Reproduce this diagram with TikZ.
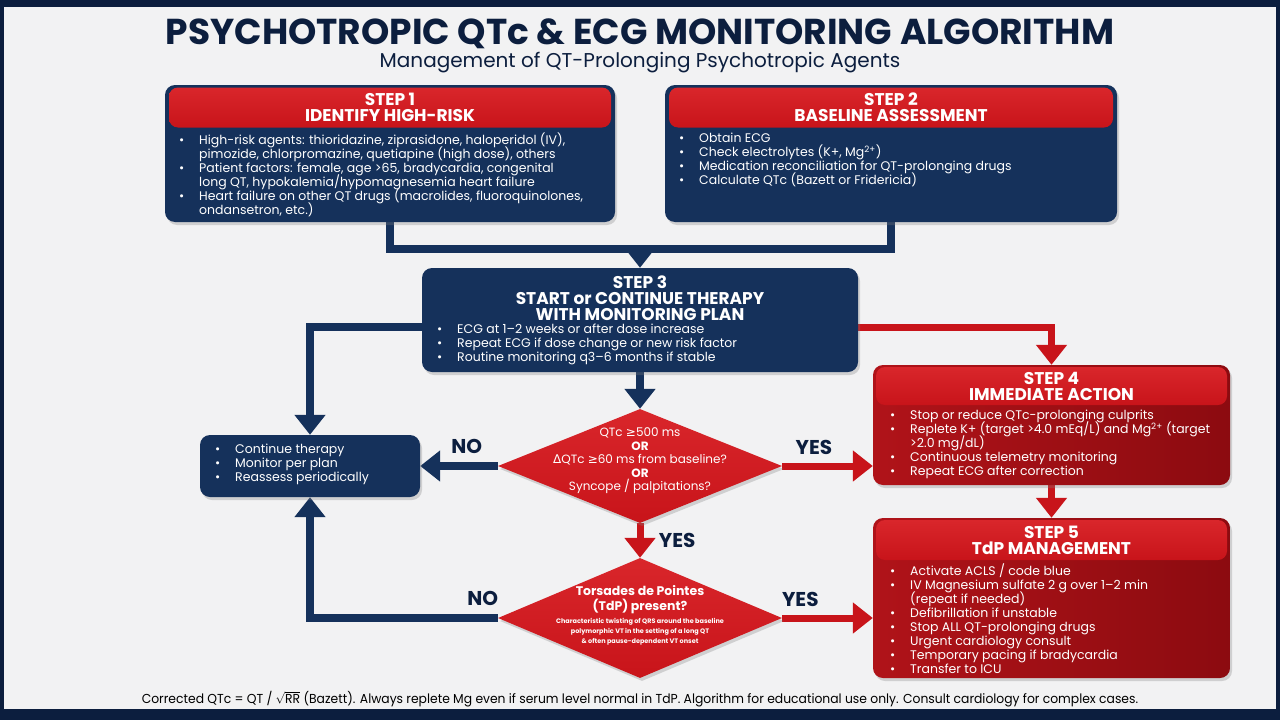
\documentclass[tikz,border=0pt]{standalone}
\usepackage{fontspec}
\setmainfont{Poppins}
\newfontfamily\symfont{DejaVu Sans}
\usetikzlibrary{arrows.meta,positioning,shapes.geometric,shadows,backgrounds}
\definecolor{navy}{HTML}{15315B}
\definecolor{framenavy}{HTML}{0C1E3E}
\definecolor{hdred}{HTML}{C8141A}
\definecolor{hdredlight}{HTML}{D9262B}
\definecolor{bodyredA}{HTML}{B01319}
\definecolor{bodyredB}{HTML}{8C0B10}
\definecolor{paper}{HTML}{F2F2F3}
\newcommand{\itm}{\makebox[20pt][l]{\textbullet}}
\newcommand{\cnt}{\hspace*{20pt}}
\newcommand{\geqs}{{\symfont ≥}}
\setlength{\lineskiplimit}{-100pt}

\begin{document}
\begin{tikzpicture}[x=1pt, y=-1pt,
  font=\fontsize{12.5}{14}\selectfont,
  shade/.style={drop shadow={opacity=0.3, shadow xshift=2pt, shadow yshift=-3pt}},
  navybox/.style={fill=navy, rounded corners=10pt, shade},
  redbox/.style={left color=bodyredA, right color=bodyredB, rounded corners=10pt, shade},
  redhead/.style={top color=hdredlight, bottom color=hdred, rounded corners=9pt, text=white, align=center,
    font=\fontsize{17}{16}\selectfont\bfseries},
  steptitle/.style={text=white, align=center, font=\fontsize{17}{16}\selectfont\bfseries},
  bodytxt/.style={text=white, align=left, inner sep=0pt},
  diam/.style={diamond, inner sep=0pt, top color=hdredlight, bottom color=hdred, shade},
  lbl/.style={text=framenavy, font=\fontsize{20}{20}\selectfont\bfseries},
  navyline/.style={draw=navy, line width=8pt},
  redline/.style={draw=hdred, line width=7pt},
  >={Triangle[length=20pt, width=30pt]}]

  \begin{scope}[on background layer]
    \fill[framenavy] (0,0) rectangle (1280,720);
    \fill[paper] (4,7) rectangle (1276,709);
  \end{scope}
  \useasboundingbox (0,0) rectangle (1280,720);

  % title
  \node[text=framenavy] (title) at (640,34)
    {\fontsize{36}{36}\selectfont\bfseries PSYCHOTROPIC QTc \& ECG MONITORING ALGORITHM};
  \node[text=framenavy] (sub) at (640,63)
    {\fontsize{20}{20}\selectfont Management of QT-Prolonging Psychotropic Agents};

  % step 1 and step 2
  \node[navybox, minimum width=450pt, minimum height=137pt] (s1) at (390,153.5) {};
  \node[redhead, minimum width=442pt, minimum height=40pt] (s1h) at (390,107.5) {STEP 1\\IDENTIFY HIGH-RISK};
  \node[bodytxt, anchor=north west] (s1b) at (179,133)
    {\itm High-risk agents: thioridazine, ziprasidone, haloperidol (IV),\\
     \cnt pimozide, chlorpromazine, quetiapine (high dose), others\\
     \itm Patient factors: female, age >65, bradycardia, congenital\\
     \cnt long QT, hypokalemia/hypomagnesemia heart failure\\
     \itm Heart failure on other QT drugs (macrolides, fluoroquinolones,\\
     \cnt ondansetron, etc.)};

  \node[navybox, minimum width=452pt, minimum height=137pt] (s2) at (891,153.5) {};
  \node[redhead, minimum width=444pt, minimum height=40pt] (s2h) at (891,107.5) {STEP 2\\BASELINE ASSESSMENT};
  \node[bodytxt, anchor=north west] (s2b) at (679,133)
    {\itm Obtain ECG\\
     \itm Check electrolytes (K+, Mg\textsuperscript{2+})\\
     \itm Medication reconciliation for QT-prolonging drugs\\
     \itm Calculate QTc (Bazett or Fridericia)};
  \coordinate (join) at (640,249);

  % step 3
  \node[navybox, minimum width=436pt, minimum height=104pt] (s3) at (640,320) {};
  \node[steptitle] (s3h) at (640,298) {STEP 3\\START or CONTINUE THERAPY\\WITH MONITORING PLAN};
  \node[bodytxt, anchor=north west] (s3b) at (437,324)
    {\itm ECG at 1--2 weeks or after dose increase\\
     \itm Repeat ECG if dose change or new risk factor\\
     \itm Routine monitoring q3--6 months if stable};

  % continue therapy
  \node[navybox, minimum width=220pt, minimum height=62pt] (cont) at (310,466) {};
  \node[bodytxt, anchor=north west] (contb) at (215,444)
    {\itm Continue therapy\\
     \itm Monitor per plan\\
     \itm Reassess periodically};

  % decision 1
  \node[diam, minimum width=284pt, minimum height=114pt] (d1) at (640,466) {};
  \node[text=white, align=center, font=\fontsize{12}{13.5}\selectfont] (d1t) at (640,461)
    {QTc \geqs500 ms\\\textbf{OR}\\{\symfont Δ}QTc \geqs60 ms from baseline?\\\textbf{OR}\\Syncope / palpitations?};

  % decision 2
  \node[diam, minimum width=284pt, minimum height=120pt] (d2) at (640,618) {};
  \node[text=white, align=center, font=\fontsize{12.5}{15}\selectfont\bfseries] (d2t) at (640,600)
    {Torsades de Pointes\\(TdP) present?};
  \node[text=white, align=center, font=\fontsize{6.5}{10}\selectfont\bfseries] (d2n) at (640,632)
    {Characteristic twisting of QRS around the baseline\\
     polymorphic VT in the setting of a long QT\\
     \& often pause-dependent VT onset};

  % step 4
  \node[redbox, minimum width=357pt, minimum height=120pt] (s4) at (1051.5,425) {};
  \node[redhead, minimum width=351pt, minimum height=38pt] (s4h) at (1051.5,386) {STEP 4\\IMMEDIATE ACTION};
  \node[bodytxt, anchor=north west] (s4b) at (890,410)
    {\itm Stop or reduce QTc-prolonging culprits\\
     \itm Replete K+ (target >4.0 mEq/L) and Mg\textsuperscript{2+} (target\\
     \cnt >2.0 mg/dL)\\
     \itm Continuous telemetry monitoring\\
     \itm Repeat ECG after correction};

  % step 5
  \node[redbox, minimum width=357pt, minimum height=160pt] (s5) at (1051.5,598) {};
  \node[redhead, minimum width=351pt, minimum height=40pt] (s5h) at (1051.5,540) {STEP 5\\TdP MANAGEMENT};
  \node[bodytxt, anchor=north west] (s5b) at (890,564)
    {\itm Activate ACLS / code blue\\
     \itm IV Magnesium sulfate 2 g over 1--2 min\\
     \cnt (repeat if needed)\\
     \itm Defibrillation if unstable\\
     \itm Stop ALL QT-prolonging drugs\\
     \itm Urgent cardiology consult\\
     \itm Temporary pacing if bradycardia\\
     \itm Transfer to ICU};

  % footer
  \node[text=black] (foot) at (640,699)
    {\scalebox{0.95}[1]{\fontsize{13}{13}\selectfont Corrected QTc = QT / $\sqrt{\mbox{RR}}$ (Bazett). Always replete Mg even if serum level normal in TdP. Algorithm for educational use only. Consult cardiology for complex cases.}};

  % connectors
  \begin{scope}[on background layer]
    \draw[navyline] (s1.south) |- (join) -| (s2.south);
    \draw[navyline, ->] (join) -- (s3.north);
    \draw[navyline, ->] ([yshift=-7pt]s3.west) -| (cont.north);
    \draw[redline, ->] ([yshift=-7pt]s3.east) -| (s4.north);
    \draw[navyline, ->] (s3.south) -- (d1.north);
    \draw[navyline, ->] (d1.west) -- node[lbl, pos=0.4, above=5pt] {NO} (cont.east);
    \draw[redline, ->] (d1.east) -- node[lbl, pos=0.35, above=5pt] {YES} (d1.east -| s4.west);
    \draw[redline, ->] (d1.south) -- node[lbl, right=12pt] {YES} (d2.north);
    \draw[redline, ->] (s4.south) -- (s5.north);
    \draw[navyline, ->] (d2.west) -| node[lbl, pos=0.04, above=5pt] {NO} (cont.south);
    \draw[redline, ->] (d2.east) -- node[lbl, pos=0.2, above=5pt] {YES} (d2.east -| s5.west);
  \end{scope}
\end{tikzpicture}
\end{document}
